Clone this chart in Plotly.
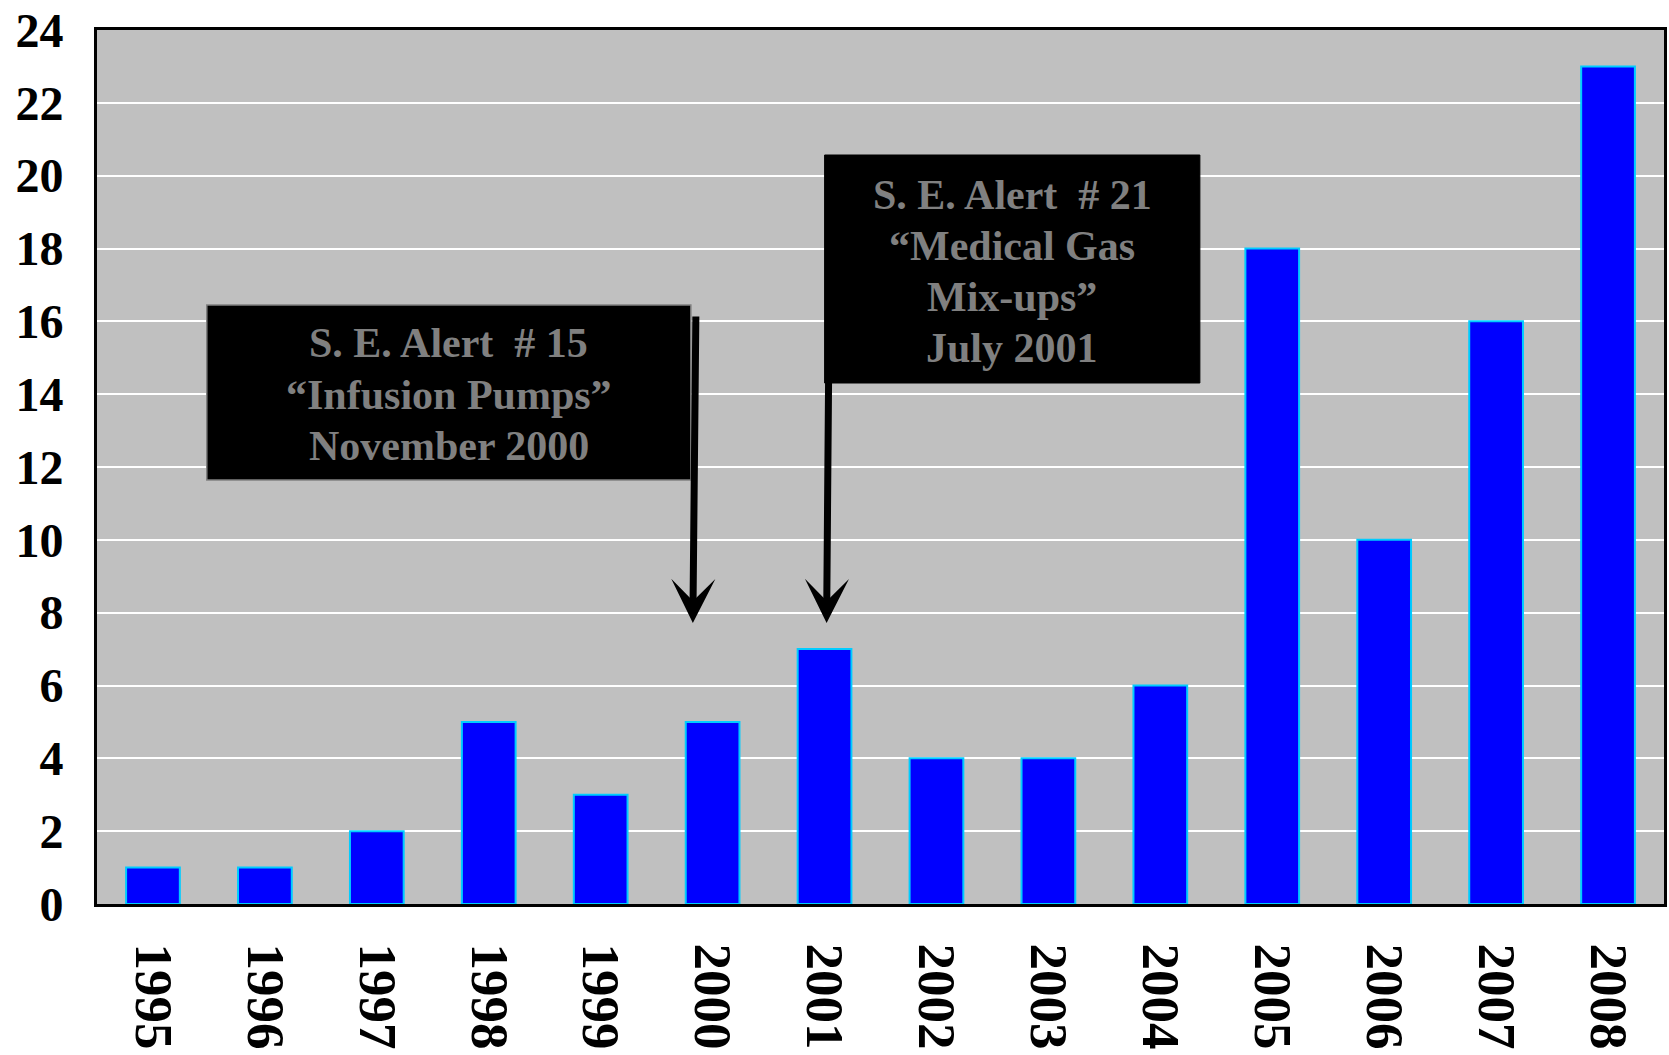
import plotly.graph_objects as go

years = ["1995", "1996", "1997", "1998", "1999", "2000", "2001",
         "2002", "2003", "2004", "2005", "2006", "2007", "2008"]
counts = [1, 1, 2, 5, 3, 5, 7, 4, 4, 6, 18, 10, 16, 23]
y_ticks = list(range(0, 25, 2))

box1_lines = ["S. E. Alert  # 15", "\u201cInfusion Pumps\u201d", "November 2000"]
box2_lines = ["S. E. Alert  # 21", "\u201cMedical Gas", "Mix-ups\u201d", "July 2001"]

FONT = "Liberation Serif, Times New Roman, serif"

fig = go.Figure(go.Bar(
    x=years, y=counts,
    marker=dict(color="#0000ff", line=dict(color="#00ccff", width=2)),
    width=0.48,
))

W, H = 1669, 1055
L, R, T, B = 97, 1667, 30, 904


def px(x):
    return (x - L) / (R - L)


def py(y):
    return (B - y) / (B - T)


shapes = [
    dict(type="rect", xref="paper", yref="paper",
         x0=px(207), x1=px(692), y0=py(480), y1=py(305),
         fillcolor="black", line=dict(color="#808080", width=1.5), layer="above"),
    dict(type="rect", xref="paper", yref="paper",
         x0=px(826), x1=px(1202), y0=py(383), y1=py(155),
         fillcolor="black", line=dict(color="black", width=1), layer="above"),
]

annotations = []
for txt, yy in zip(box1_lines, [343, 395, 446]):
    annotations.append(dict(xref="paper", yref="paper", x=px(449.5), y=py(yy),
                            text=txt, showarrow=False, xanchor="center", yanchor="middle",
                            font=dict(family=FONT, size=42, color="#808080", weight="bold")))
for txt, yy in zip(box2_lines, [195, 246, 297, 348]):
    annotations.append(dict(xref="paper", yref="paper", x=px(1014), y=py(yy),
                            text=txt, showarrow=False, xanchor="center", yanchor="middle",
                            font=dict(family=FONT, size=42, color="#808080", weight="bold")))

# arrows
annotations.append(dict(xref="paper", yref="paper", x=px(694), y=py(623), text="",
                        showarrow=True, arrowhead=3, arrowwidth=7, arrowsize=1.05,
                        arrowcolor="black", ax=3, ay=-308, standoff=0))
annotations.append(dict(xref="paper", yref="paper", x=px(828), y=py(623), text="",
                        showarrow=True, arrowhead=3, arrowwidth=7, arrowsize=1.05,
                        arrowcolor="black", ax=2, ay=-245, standoff=0))

fig.update_layout(
    width=W, height=H,
    margin=dict(l=L, r=W - R, t=T, b=H - B, pad=0),
    paper_bgcolor="white",
    plot_bgcolor="#c0c0c0",
    bargap=0.52,
    showlegend=False,
    shapes=shapes,
    annotations=annotations,
    font=dict(family=FONT, color="black"),
)
fig.update_xaxes(
    type="category", tickangle=90,
    tickfont=dict(family=FONT, size=53, color="black", weight="bold"),
    showline=True, linecolor="black", linewidth=3, mirror=True,
    ticks="outside", ticklen=26, tickcolor="rgba(0,0,0,0)",
    showgrid=False,
)
fig.update_yaxes(
    range=[0, 24], tickvals=y_ticks,
    tickfont=dict(family=FONT, size=48, color="black", weight="bold"),
    showline=True, linecolor="black", linewidth=3, mirror=True,
    ticks="outside", ticklen=21, tickcolor="rgba(0,0,0,0)",
    showgrid=True, gridcolor="white", gridwidth=2,
    zeroline=False,
)

fig.write_html("out.html",
               config={"displayModeBar": False},
               post_script="document.body.style.margin='0';document.body.style.overflow='hidden';")
